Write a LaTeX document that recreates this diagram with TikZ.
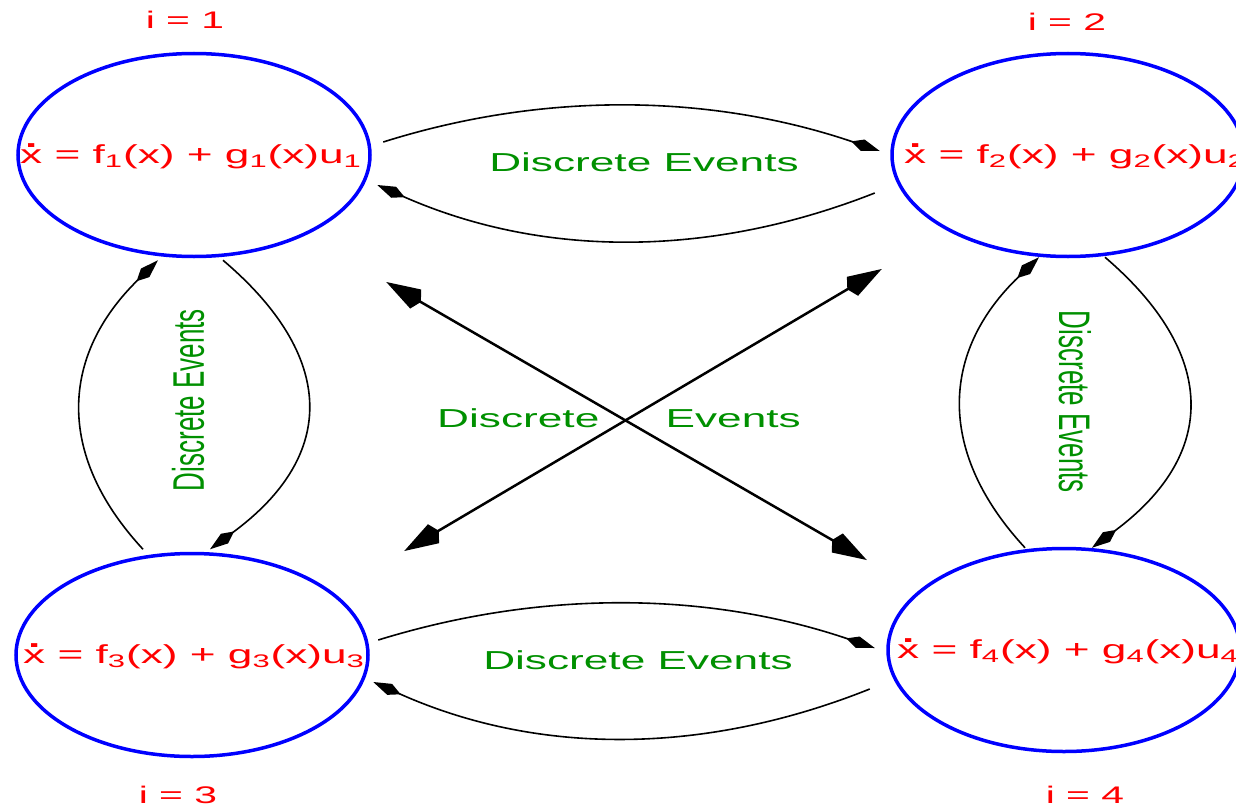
\documentclass[tikz,border=0pt]{standalone}
\usepackage{fontspec}
\setmainfont{Liberation Sans}
\usepackage{xcolor}
\definecolor{eventgreen}{RGB}{0,144,0}
\usepackage{tikz}
\usetikzlibrary{arrows.meta,shapes.geometric}
\newcommand{\hstretch}[1]{\scalebox{1.7}[1]{#1}}
\newcommand{\vstretch}[1]{\scalebox{1}[1.7]{#1}}
\newcommand{\xdot}{\ooalign{x\cr\hidewidth\raisebox{0.62em}{\textbf{.}}\hidewidth\cr}}

\begin{document}
\begin{tikzpicture}[x=1pt,y=-1pt,
 state/.style={draw=blue,line width=3.5pt,ellipse,minimum width=352pt,
 minimum height=203pt,inner sep=0pt},
 eqn/.style={text=red,inner sep=0pt,font=\fontsize{26}{30}\selectfont},
 idx/.style={text=red,font=\fontsize{24}{28}\selectfont},
 ev/.style={text=eventgreen,font=\fontsize{26}{30}\selectfont},
 arr/.style={-{Kite[length=30pt,width=12pt,inset=12pt]},line width=1.6pt},
 cross/.style={{Kite[length=40pt,width=22pt,inset=6pt]}-{Kite[length=40pt,width=22pt,inset=6pt]},line width=2.5pt}]
 \useasboundingbox (0,0) rectangle (1236,808);
 \node[state] (s1) at (194,155) {};
 \node[state] (s2) at (1068,155) {};
 \node[state] (s3) at (192,655) {};
 \node[state] (s4) at (1064,650) {};
 \node[eqn] (eq1) at (191,157) {\hstretch{\xdot{} = f\textsubscript{1}(x) + g\textsubscript{1}(x)u\textsubscript{1}}};
 \node[eqn] (eq2) at (1075,157) {\hstretch{\xdot{} = f\textsubscript{2}(x) + g\textsubscript{2}(x)u\textsubscript{2}}};
 \node[eqn] (eq3) at (194,657) {\hstretch{\xdot{} = f\textsubscript{3}(x) + g\textsubscript{3}(x)u\textsubscript{3}}};
 \node[eqn] (eq4) at (1068,652) {\hstretch{\xdot{} = f\textsubscript{4}(x) + g\textsubscript{4}(x)u\textsubscript{4}}};
 \node[idx] (i1) at (185,20) {\hstretch{i = 1}};
 \node[idx] (i2) at (1067,22) {\hstretch{i = 2}};
 \node[idx] (i3) at (178,795) {\hstretch{i = 3}};
 \node[idx] (i4) at (1085,795) {\hstretch{i = 4}};
 \node[ev] (ev12) at (644,162) {\hstretch{Discrete Events}};
 \node[ev] (ev34) at (638,660) {\hstretch{Discrete Events}};
 \node[ev,rotate=90] (ev13) at (188,400) {\vstretch{Discrete Events}};
 \node[ev,rotate=-90] (ev24) at (1075,402) {\vstretch{Discrete Events}};
 \node[ev] (evx) at (619,418) {\hstretch{Discrete\hspace{39pt}Events}};
 \draw[arr] ([shift={(11.5,-13)}]s1.east) .. controls +(165,-52) and +(-165,-56) .. ([shift={(-10.5,-4)}]s2.west);
 \draw[arr] ([shift={(-15.5,38)}]s2.west) .. controls +(-165,65) and +(165,73) .. ([shift={(5.5,30)}]s1.east);
 \draw[arr] ([shift={(8.5,-15)}]s3.east) .. controls +(165,-51) and +(-165,-56) .. ([shift={(-11.5,-2)}]s4.west);
 \draw[arr] ([shift={(-16.5,39)}]s4.west) .. controls +(-165,66) and +(165,74) .. ([shift={(3.5,27)}]s3.east);
 \draw[arr] ([shift={(-49,-2.5)}]s3.north) .. controls +(-88,-95) and +(-97,95) .. ([shift={(-36,2)}]s1.south);
 \draw[arr] ([shift={(29,2)}]s1.south) .. controls +(112,95) and +(129,-95) .. ([shift={(18,-2.5)}]s3.north);
 \draw[arr] ([shift={(-39,1)}]s4.north) .. controls +(-88,-95) and +(-99,95) .. ([shift={(-29,-1)}]s2.south);
 \draw[arr] ([shift={(37,-1)}]s2.south) .. controls +(111,95) and +(128,-95) .. ([shift={(28,1)}]s4.north);
 \draw[cross] ([shift={(14.5,127)}]s1.east) -- ([shift={(-19.5,-90)}]s4.west);
 \draw[cross] ([shift={(34.5,-104)}]s3.east) -- ([shift={(-8.5,114)}]s2.west);
\end{tikzpicture}
\end{document}
